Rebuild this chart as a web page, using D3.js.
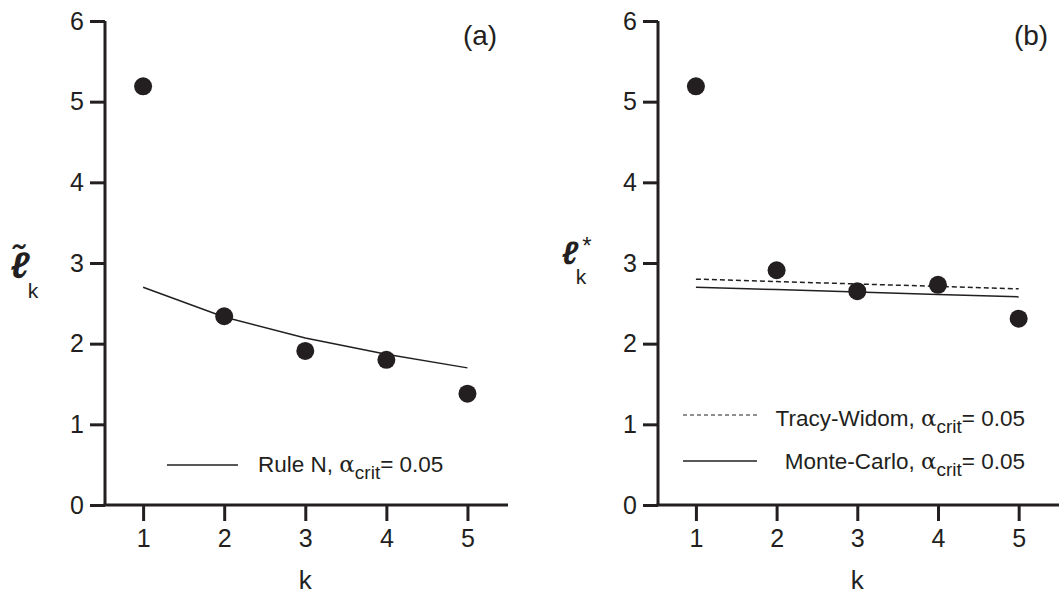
<!DOCTYPE html>
<html>
<head>
<meta charset="utf-8">
<script src="https://cdn.jsdelivr.net/npm/d3@7"></script>
<style>
  body { margin: 0; background: #fff; }
  svg text { font-family: "Liberation Sans", Arial, sans-serif; fill: #231f20; }
</style>
</head>
<body>
<svg id="chart" width="1059" height="597"></svg>
<script>
// data
var kValues = [1, 2, 3, 4, 5];
var yTicks = [0, 1, 2, 3, 4, 5, 6];

// panel (a)
var tildeL = [5.19, 2.34, 1.91, 1.80, 1.38];
var ruleN = [2.70, 2.33, 2.07, 1.87, 1.70];

// panel (b)
var starL = [5.19, 2.91, 2.65, 2.73, 2.31];
var tracyWidom = [2.80, 2.77, 2.74, 2.71, 2.68];
var monteCarlo = [2.70, 2.67, 2.64, 2.61, 2.58];

var ink = "#231f20";
var svg = d3.select("#chart");

var y = d3.scaleLinear().domain([0, 6]).range([505, 21]);

function drawPanel(x0, x1, tag) {
    var x = d3.scaleLinear().domain([0.53, 5.5]).range([x0, x1]);
    var g = svg.append("g");

    var yAxis = g.append("g")
        .attr("transform", "translate(" + x0 + ",0)")
        .call(d3.axisLeft(y).tickValues(yTicks).tickFormat(d3.format("d"))
            .tickSize(15).tickSizeOuter(0).tickPadding(6));

    var xAxis = g.append("g")
        .attr("transform", "translate(0," + y(0) + ")")
        .call(d3.axisBottom(x).tickValues(kValues).tickFormat(d3.format("d"))
            .tickSize(16).tickSizeOuter(0).tickPadding(8));

    [yAxis, xAxis].forEach(function (a) {
        a.selectAll("path, line").attr("stroke", ink).attr("stroke-width", 3);
        a.selectAll("text").attr("font-size", 25).attr("fill", ink)
            .attr("font-family", "Liberation Sans, Arial, sans-serif");
    });
    yAxis.select(".domain").attr("d", "M0," + y(6) + "V" + y(0));
    xAxis.select(".domain").attr("d", "M" + (x0 - 1.5) + ",0H" + x1);

    g.append("text")
        .attr("x", (x(3)))
        .attr("y", 589)
        .attr("text-anchor", "middle")
        .attr("font-size", 26)
        .text("k");

    g.append("text")
        .attr("x", x1 - 28)
        .attr("y", 45)
        .attr("text-anchor", "middle")
        .attr("font-size", 28)
        .text(tag);

    return { g: g, x: x };
}

function line(x, vals) {
    return d3.line()
        .x(function (d, i) { return x(kValues[i]); })
        .y(function (d) { return y(d); })(vals);
}

function dots(p, vals) {
    p.g.append("g").selectAll("circle")
        .data(vals).enter().append("circle")
        .attr("cx", function (d, i) { return p.x(kValues[i]); })
        .attr("cy", function (d) { return y(d); })
        .attr("r", 9)
        .attr("fill", ink);
}

function legendText(g, xPos, yPos, label, anchor) {
    var t = g.append("text")
        .attr("x", xPos)
        .attr("y", yPos)
        .attr("font-size", 22.5)
        .attr("text-anchor", anchor || "start");
    t.append("tspan").text(label + ", ");
    t.append("tspan").attr("font-family", "DejaVu Serif").attr("font-size", 23).text("α");
    t.append("tspan").attr("font-size", 19).attr("dy", 7).text("crit");
    t.append("tspan").attr("dy", -7).text("= 0.05");
}

// ---- panel (a)
var pa = drawPanel(105, 508, "(a)");
pa.g.append("path")
    .attr("d", line(pa.x, ruleN))
    .attr("fill", "none")
    .attr("stroke", ink)
    .attr("stroke-width", 1.5);
dots(pa, tildeL);

pa.g.append("line")
    .attr("x1", 167).attr("x2", 238)
    .attr("y1", 465).attr("y2", 465)
    .attr("stroke", ink).attr("stroke-width", 1.5);
legendText(pa.g, 258, 472, "Rule N");

// y label: l tilde, k
pa.g.append("text").attr("x", 20).attr("y", 278)
    .attr("font-family", "DejaVu Sans").attr("font-style", "oblique").attr("font-weight", "bold")
    .attr("font-size", 37).attr("text-anchor", "middle").text("ℓ\u0303");
pa.g.append("text").attr("x", 33).attr("y", 298)
    .attr("font-size", 21).attr("text-anchor", "middle").text("k");

// ---- panel (b)
var pb = drawPanel(658, 1059, "(b)");
pb.g.append("path")
    .attr("d", line(pb.x, tracyWidom))
    .attr("fill", "none")
    .attr("stroke", ink)
    .attr("stroke-width", 1.5)
    .attr("stroke-dasharray", "5,3");
pb.g.append("path")
    .attr("d", line(pb.x, monteCarlo))
    .attr("fill", "none")
    .attr("stroke", ink)
    .attr("stroke-width", 1.5);
dots(pb, starL);

pb.g.append("line")
    .attr("x1", 683).attr("x2", 757)
    .attr("y1", 415).attr("y2", 415)
    .attr("stroke", ink).attr("stroke-width", 1.2)
    .attr("stroke-dasharray", "4,3");
legendText(pb.g, 1025, 426, "Tracy-Widom", "end");
pb.g.append("line")
    .attr("x1", 683).attr("x2", 757)
    .attr("y1", 461).attr("y2", 461)
    .attr("stroke", ink).attr("stroke-width", 1.5);
legendText(pb.g, 1025, 469, "Monte-Carlo", "end");

// y label: l star, k
pb.g.append("text").attr("x", 570).attr("y", 264)
    .attr("font-family", "DejaVu Sans").attr("font-style", "oblique").attr("font-weight", "bold")
    .attr("font-size", 32).attr("text-anchor", "middle").text("ℓ");
pb.g.append("text").attr("x", 587).attr("y", 254)
    .attr("font-size", 24).attr("text-anchor", "middle").text("*");
pb.g.append("text").attr("x", 581).attr("y", 284)
    .attr("font-size", 21).attr("text-anchor", "middle").text("k");
</script>
</body>
</html>
